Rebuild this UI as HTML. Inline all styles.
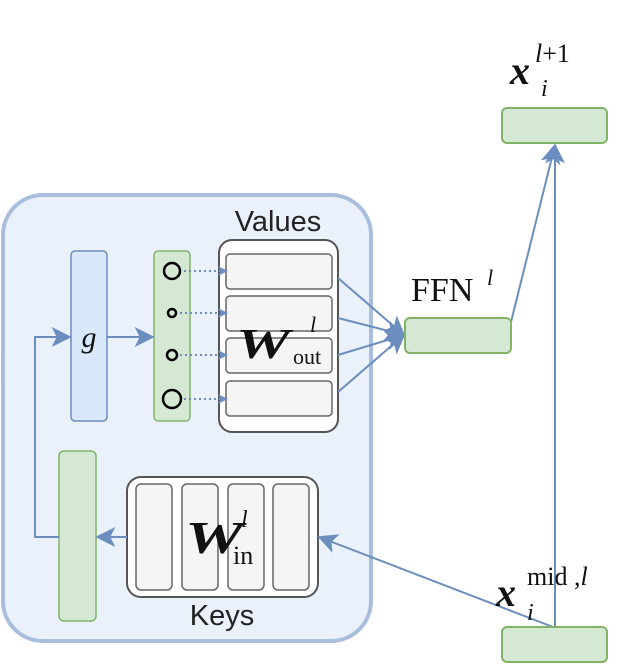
<!DOCTYPE html>
<html><head><meta charset="utf-8"><style>
html,body{margin:0;padding:0;background:#fff;}
svg{display:block;}
</style></head><body>
<svg width="618" height="666" viewBox="0 0 618 666" xmlns="http://www.w3.org/2000/svg">
<defs>
<marker id="a" viewBox="0 0 12 12" refX="11" refY="6" markerWidth="10" markerHeight="10" orient="auto" markerUnits="userSpaceOnUse">
<path d="M0,0 L12,6 L0,12 L3,6 z" fill="#6c8ebf"/></marker>
<marker id="b" viewBox="0 0 12 12" refX="11" refY="6" markerWidth="20" markerHeight="20" orient="auto" markerUnits="userSpaceOnUse">
<path d="M0,0 L12,6 L0,12 L3,6 z" fill="#6c8ebf"/></marker>
</defs>
<rect x="3" y="195" width="368" height="446" rx="40" fill="#eaf1fb" stroke="#a9bedd" stroke-width="4"/>
<text x="278" y="231" font-family="Liberation Sans, sans-serif" font-size="29" text-anchor="middle" fill="#222">Values</text>
<text x="222" y="625" font-family="Liberation Sans, sans-serif" font-size="29" text-anchor="middle" fill="#222">Keys</text>
<rect x="71" y="251" width="36" height="170" rx="4" fill="#dae8fc" stroke="#6c8ebf" stroke-width="1.5"/>
<text x="89" y="347" font-family="Liberation Serif, serif" font-style="italic" font-size="30" text-anchor="middle" fill="#111">g</text>
<rect x="154" y="251" width="36" height="170" rx="4" fill="#d5e8d4" stroke="#82b366" stroke-width="1.5"/>
<circle cx="172" cy="271" r="8" fill="none" stroke="#000" stroke-width="2.5"/>
<circle cx="172" cy="313" r="4" fill="none" stroke="#000" stroke-width="2.5"/>
<circle cx="172" cy="355" r="5" fill="none" stroke="#000" stroke-width="2.5"/>
<circle cx="172" cy="399" r="9" fill="none" stroke="#000" stroke-width="2.5"/>
<rect x="219" y="240" width="119" height="192" rx="13" fill="#fff" stroke="#555" stroke-width="2"/>
<g fill="#f5f5f5" stroke="#666" stroke-width="1.5">
<rect x="226" y="254" width="106" height="35" rx="4"/><rect x="226" y="296" width="106" height="35" rx="4"/>
<rect x="226" y="338" width="106" height="35" rx="4"/><rect x="226" y="381" width="106" height="35" rx="4"/>
</g>
<g stroke="#6c8ebf" stroke-width="2" stroke-dasharray="2,3" marker-end="url(#a)">
<line x1="184" y1="271" x2="227" y2="271"/><line x1="180" y1="313" x2="227" y2="313"/>
<line x1="180" y1="355" x2="227" y2="355"/><line x1="184" y1="399" x2="227" y2="399"/>
</g>
<text x="236" y="358" font-family="Liberation Serif, serif" font-style="italic" font-weight="bold" font-size="42" textLength="54" lengthAdjust="spacingAndGlyphs" fill="#111">W</text>
<text x="310" y="332" font-family="Liberation Serif, serif" font-style="italic" font-size="22" fill="#111">l</text>
<text x="293" y="364" font-family="Liberation Serif, serif" font-size="22" fill="#111">out</text>
<rect x="127" y="477" width="191" height="120" rx="14" fill="#fff" stroke="#555" stroke-width="2"/>
<g fill="#f5f5f5" stroke="#666" stroke-width="1.5">
<rect x="136" y="484" width="36" height="106" rx="5"/><rect x="182" y="484" width="36" height="106" rx="5"/>
<rect x="228" y="484" width="36" height="106" rx="5"/><rect x="273" y="484" width="36" height="106" rx="5"/>
</g>
<text x="185" y="553" font-family="Liberation Serif, serif" font-style="italic" font-weight="bold" font-size="46" textLength="58" lengthAdjust="spacingAndGlyphs" fill="#111">W</text>
<text x="241" y="527" font-family="Liberation Serif, serif" font-style="italic" font-size="24" fill="#111">l</text>
<text x="233" y="564" font-family="Liberation Serif, serif" font-size="26" fill="#111">in</text>
<rect x="59" y="451" width="37" height="170" rx="5" fill="#d5e8d4" stroke="#82b366" stroke-width="1.5"/>
<g stroke="#6c8ebf" stroke-width="2" fill="none">
<line x1="127" y1="537" x2="97" y2="537" marker-end="url(#b)"/>
<polyline points="59,537 35,537 35,337 70,337" marker-end="url(#b)"/>
<line x1="107" y1="337" x2="153" y2="337" marker-end="url(#b)"/>
<line x1="338" y1="278" x2="404" y2="335" marker-end="url(#b)"/>
<line x1="338" y1="318" x2="404" y2="335" marker-end="url(#b)"/>
<line x1="338" y1="355" x2="404" y2="335" marker-end="url(#b)"/>
<line x1="338" y1="392" x2="404" y2="335" marker-end="url(#b)"/>
<line x1="511" y1="322" x2="555" y2="145" marker-end="url(#b)"/>
<line x1="555" y1="627" x2="555" y2="145" marker-end="url(#b)"/>
<line x1="553" y1="627" x2="319" y2="537" marker-end="url(#b)"/>
</g>
<rect x="405" y="318" width="106" height="35" rx="5" fill="#d5e8d4" stroke="#82b366" stroke-width="2"/>
<rect x="502" y="108" width="105" height="35" rx="5" fill="#d5e8d4" stroke="#82b366" stroke-width="2"/>
<rect x="502" y="627" width="105" height="35" rx="5" fill="#d5e8d4" stroke="#82b366" stroke-width="2"/>
<text x="411" y="301" font-family="Liberation Serif, serif" font-size="34" fill="#111">FFN</text>
<text x="487" y="285" font-family="Liberation Serif, serif" font-style="italic" font-size="22" fill="#111">l</text>
<text x="510" y="84" font-family="Liberation Serif, serif" font-style="italic" font-weight="bold" font-size="40" fill="#111">x</text>
<text x="535" y="62" font-family="Liberation Serif, serif" font-size="26" fill="#111"><tspan font-style="italic">l</tspan>+1</text>
<text x="541" y="96" font-family="Liberation Serif, serif" font-style="italic" font-size="24" fill="#111">i</text>
<text x="496" y="606" font-family="Liberation Serif, serif" font-style="italic" font-weight="bold" font-size="40" fill="#111">x</text>
<text x="527" y="585" font-family="Liberation Serif, serif" font-size="26" fill="#111">mid ,<tspan font-style="italic">l</tspan></text>
<text x="527" y="620" font-family="Liberation Serif, serif" font-style="italic" font-size="24" fill="#111">i</text>
</svg>
</body></html>
